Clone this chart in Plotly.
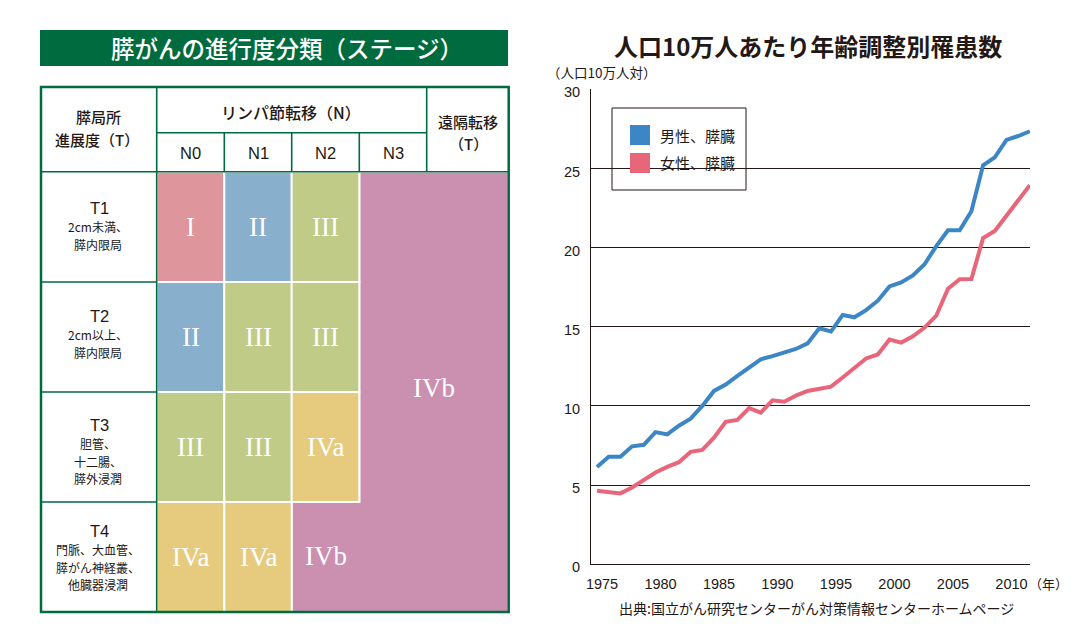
import plotly.graph_objects as go

W, H = 1084, 634

# ---------------- data ----------------
years = list(range(1975, 2013))
male = [6.15, 6.8, 6.8, 7.45, 7.55, 8.35, 8.2, 8.75, 9.2, 10.0,
        10.95, 11.35, 11.9, 12.45, 12.95, 13.15, 13.35, 13.6, 13.95, 14.9,
        14.7, 15.75, 15.6, 16.05, 16.65, 17.55, 17.8, 18.25, 18.95, 20.1,
        21.1, 21.1, 22.3, 25.2, 25.7, 26.8, 27.05, 27.35]
female = [4.65, 4.55, 4.48, 4.85, 5.3, 5.8, 6.15, 6.45, 7.1, 7.22,
          8.0, 9.0, 9.12, 9.87, 9.58, 10.36, 10.27, 10.65, 10.95, 11.1,
          11.22, 11.8, 12.4, 13.0, 13.25, 14.2, 14.0, 14.4, 14.95, 15.7,
          17.4, 18.0, 18.02, 20.6, 21.05, 22.0, 23.0, 23.95]
series_names = ["男性、膵臓", "女性、膵臓"]
series_colors = ["#3D86C6", "#E8657A"]
x_ticks = [1975, 1980, 1985, 1990, 1995, 2000, 2005, 2010]
y_ticks = [0, 5, 10, 15, 20, 25, 30]

# staging table contents
table_title = "膵がんの進行度分類（ステージ）"
n_labels = ["N0", "N1", "N2", "N3"]
t_labels = ["T1", "T2", "T3", "T4"]
t_desc = [["2cm未満、", "膵内限局"],
          ["2cm以上、", "膵内限局"],
          ["胆管、", "十二腸、", "膵外浸潤"],
          ["門脈、大血管、", "膵がん神経叢、", "他臓器浸潤"]]
stage_grid = [["I", "II", "III"],
              ["II", "III", "III"],
              ["III", "III", "IVa"],
              ["IVa", "IVa"]]
stage_colors = {"I": "#DE959B", "II": "#88AFCC", "III": "#BFCB86",
                "IVa": "#E6CB7E", "IVb": "#CB8FB0"}

GREEN = "#006B3F"
DARK = "#231815"
JP = "Noto Sans CJK JP"
SERIF = "Liberation Serif"


def px(x):
    return x / W


def py(y):
    return 1 - y / H


shapes = []
annos = []


def rect(x0, y0, x1, y1, fill=None, color=None, width=0, layer="above"):
    shapes.append(dict(type="rect", xref="paper", yref="paper",
                       x0=px(x0), x1=px(x1), y0=py(y1), y1=py(y0),
                       fillcolor=fill if fill else "rgba(0,0,0,0)",
                       line=dict(color=color if color else "rgba(0,0,0,0)", width=width),
                       layer=layer))


def line(x0, y0, x1, y1, color=GREEN, width=1.6):
    shapes.append(dict(type="line", xref="paper", yref="paper",
                       x0=px(x0), x1=px(x1), y0=py(y0), y1=py(y1),
                       line=dict(color=color, width=width)))


def text(x, y, s, size, color=DARK, family=JP, xanchor="center", weight=None,
         yanchor="middle"):
    f = dict(size=size, color=color, family=family)
    if weight:
        f["weight"] = weight
    annos.append(dict(x=px(x), y=py(y), xref="paper", yref="paper", text=s,
                      showarrow=False, xanchor=xanchor, yanchor=yanchor,
                      font=f))


# ---------------- staging table ----------------
rect(40, 30, 508, 66, fill=GREEN)
text(286.5, 48, table_title, 23.5, color="white", weight=500)

L, R = 41, 508.7
col_x = [156.7, 224.3, 291.7, 359.3, 426.7]
TOP, HMID, HBOT = 87, 132.7, 171.7
row_y = [171.7, 282, 392, 502, 612]

# purple IVb L-shape
pts = [(359.3, 171.7), (R, 171.7), (R, 612), (291.7, 612), (291.7, 502), (359.3, 502)]
path = "M " + " L ".join(f"{px(a)},{py(b)}" for a, b in pts) + " Z"
shapes.append(dict(type="path", xref="paper", yref="paper", path=path,
                   fillcolor=stage_colors["IVb"], line=dict(color="white", width=2)))

for r, row in enumerate(stage_grid):
    for c, st in enumerate(row):
        x0, x1 = col_x[c], col_x[c + 1]
        y0, y1 = row_y[r], row_y[r + 1]
        rect(x0, y0, x1, y1, fill=stage_colors[st], color="white", width=2)
        text((x0 + x1) / 2, (y0 + y1) / 2, st, 27, color="white", family=SERIF)

text(433.5, 388, "IVb", 27, color="white", family=SERIF)
text(325.5, 556, "IVb", 27, color="white", family=SERIF)

# green grid lines
line(col_x[0], HMID, col_x[4], HMID)
for cx in col_x[1:4]:
    line(cx, HMID, cx, HBOT)
line(col_x[4], TOP, col_x[4], HBOT)
line(col_x[0], TOP, col_x[0], 612)
line(L, HBOT, R, HBOT)
for ry in row_y[1:4]:
    line(L, ry, col_x[0], ry)
rect(L, TOP, R, 612, color=GREEN, width=2.5)

# header texts
text(98, 116.5, "膵局所", 15, weight=500)
text(97, 139.5, "進展度（T）", 15, weight=500)
text(291, 112, "リンパ節転移（N）", 16, weight=500)
for i, n in enumerate(n_labels):
    text((col_x[i] + col_x[i + 1]) / 2, 153, n, 16.5, family="Liberation Sans")
text(468, 121, "遠隔転移", 15, weight=500)
text(468, 143.5, "（T）", 15, weight=500)

# row labels
row_label_y = [208, 316, 425, 531]
for r in range(4):
    y0 = row_label_y[r]
    text(99, y0, t_labels[r], 16.5, family="Liberation Sans")
    for k, s in enumerate(t_desc[r]):
        text(98, y0 + 18.5 + 17.5 * k, s, 12)

# ---------------- line chart ----------------
fig = go.Figure()
for vals, name, col in zip([male, female], series_names, series_colors):
    fig.add_trace(go.Scatter(x=years, y=vals, mode="lines", name=name,
                             line=dict(color=col, width=4),
                             showlegend=False, hoverinfo="x+y"))

# manual legend box
rect(612, 108, 746, 190, color=DARK, width=1)
leg_y = [135, 163]
for name, col, ly in zip(series_names, series_colors, leg_y):
    rect(630, ly - 10, 650, ly + 10, fill=col)
    text(658, ly, name, 15, xanchor="left")

# chart titles and notes
text(808, 45, "人口10万人あたり年齢調整別罹患数", 24, weight="bold")
text(545, 72, "（人口10万人対）", 13.5, xanchor="left")
text(1048, 583, "（年）", 13)
text(816, 608, "出典:国立がん研究センターがん対策情報センターホームページ", 14)

fig.update_layout(
    width=W, height=H, autosize=False,
    margin=dict(l=0, r=0, t=0, b=0, pad=0, autoexpand=False),
    paper_bgcolor="white", plot_bgcolor="white",
    shapes=shapes, annotations=annos, showlegend=False,
    xaxis=dict(domain=[px(591), px(1030)], range=[1974.487, 2012.01],
               tickvals=x_ticks, ticktext=[str(v) for v in x_ticks],
               showgrid=False, zeroline=False, showline=True,
               linecolor=DARK, linewidth=1, ticks="", automargin=False,
               tickfont=dict(family="Liberation Sans", size=14.5, color=DARK),
               ticklabelstandoff=6, ticklabelshift=5, fixedrange=True),
    yaxis=dict(domain=[py(564.3), py(89.3)], range=[0, 30],
               tickvals=y_ticks, showgrid=True, gridcolor=DARK, gridwidth=1,
               zeroline=False, showline=True, linecolor=DARK, linewidth=1,
               ticks="", automargin=False,
               tickfont=dict(family="Liberation Sans", size=14.5, color=DARK),
               ticklabelstandoff=7, ticklabelshift=3, fixedrange=True),
)

fig.write_html("out.html", config={"displayModeBar": False},
               post_script="document.body.style.margin='0px';document.body.style.overflow='hidden';")
